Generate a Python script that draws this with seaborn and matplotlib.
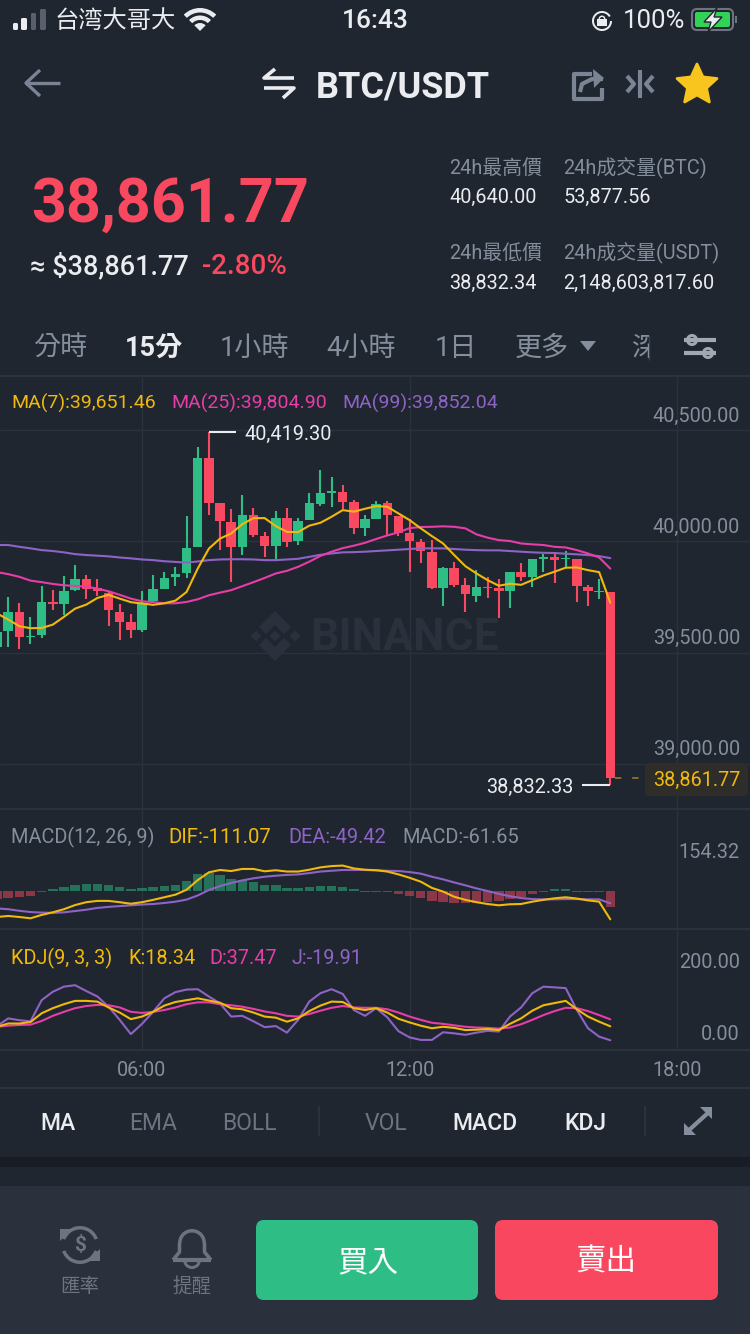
import numpy as np
import pandas as pd
import matplotlib
matplotlib.use('Agg')
import matplotlib.pyplot as plt
from matplotlib.patches import FancyBboxPatch, Rectangle, Polygon, Wedge, Circle
from matplotlib.transforms import Bbox
import seaborn as sns

# 15 min candles, index 0 is the 06:00 candle
first_idx = -13
opens = [39453, 39523, 39611, 39496, 39505, 39654, 39648, 39708, 39760, 39718, 39697, 39611, 39563, 39531,
         39660, 39715, 39766, 39783, 39901, 40303, 40098, 40015, 39901, 40047, 39952, 39906, 40033, 39930,
         40023, 40095, 40145, 40151, 40103, 39986, 40029, 40098, 40043, 39966, 39926, 39881, 39716, 39806,
         39732, 39684, 39723, 39716, 39702, 39791, 39765, 39849, 39855, 39846, 39846, 39723, 39699, 39701]
closes = [39521, 39611, 39498, 39502, 39655, 39646, 39705, 39760, 39715, 39703, 39618, 39563, 39531, 39645,
          39714, 39763, 39781, 39898, 40303, 40099, 40018, 39900, 40047, 39954, 39906, 40033, 39925, 40020,
          40098, 40143, 40151, 40103, 39986, 40027, 40095, 40045, 39966, 39927, 39882, 39716, 39806, 39732,
          39690, 39723, 39717, 39702, 39791, 39765, 39849, 39849, 39843, 39852, 39726, 39702, 39705, 38861.77]
highs = [39535, 39678, 39651, 39588, 39728, 39708, 39772, 39823, 39774, 39760, 39700, 39648, 39603, 39705,
         39778, 39790, 39813, 40042, 40350, 40419.30, 40098, 40071, 40137, 40078, 39970, 40065, 40078, 40033,
         40146, 40248, 40215, 40183, 40113, 40048, 40110, 40107, 40043, 40026, 39936, 39933, 39813, 39833,
         39761, 39798, 39768, 39756, 39791, 39828, 39849, 39869, 39881, 39882, 39849, 39729, 39759, 39701]
lows = [39438, 39453, 39445, 39468, 39495, 39621, 39595, 39705, 39670, 39681, 39549, 39486, 39495, 39522,
        39655, 39714, 39726, 39763, 39901, 40044, 39888, 39743, 39868, 39945, 39858, 39850, 39903, 39910,
        40023, 40086, 40080, 40071, 39960, 39951, 40026, 39954, 39951, 39788, 39828, 39713, 39639, 39723,
        39612, 39653, 39675, 39581, 39626, 39747, 39720, 39788, 39738, 39810, 39653, 39636, 39668, 38832.33]

ma7 = [39603, 39576, 39546, 39537, 39538, 39553, 39588, 39625, 39643, 39673, 39687, 39670, 39654, 39648,
       39642, 39649, 39661, 39700, 39805, 39895, 39940, 39963, 40005, 40032, 40032, 39996, 39970, 39969,
       39998, 40011, 40038, 40068, 40061, 40074, 40086, 40083, 40053, 40023, 39986, 39951, 39918, 39866,
       39816, 39783, 39753, 39728, 39737, 39732, 39753, 39774, 39791, 39809, 39810, 39798, 39789, 39651.46]
ma25 = [39789, 39780, 39768, 39751, 39744, 39736, 39730, 39727, 39724, 39715, 39703, 39687, 39670, 39658,
        39654, 39649, 39649, 39655, 39667, 39685, 39697, 39708, 39726, 39744, 39763, 39783, 39795, 39813,
        39836, 39862, 39881, 39897, 39908, 39921, 39938, 39954, 39968, 39987, 39992, 39993, 39995, 39993,
        39986, 39959, 39944, 39933, 39929, 39918, 39914, 39911, 39903, 39900, 39888, 39873, 39855, 39804.90]
ma99 = [39911, 39911, 39903, 39896, 39888, 39884, 39878, 39870, 39866, 39863, 39860, 39855, 39851, 39846,
        39843, 39838, 39835, 39832, 39837, 39843, 39846, 39847, 39847, 39846, 39843, 39843, 39846, 39849,
        39858, 39867, 39873, 39878, 39879, 39881, 39884, 39887, 39890, 39893, 39896, 39896, 39896, 39893,
        39890, 39888, 39887, 39887, 39884, 39881, 39878, 39876, 39875, 39872, 39869, 39866, 39861, 39852.04]

dif = [-102, -98, -102, -107, -94, -84, -72, -56, -45, -40, -40, -45, -51, -45,
       -36, -26, -16, 3, 40, 70, 79, 75, 83, 83, 74, 78, 73, 73,
       80, 89, 94, 96, 85, 80, 78, 73, 62, 49, 34, 10, -4, -24,
       -36, -45, -52, -57, -53, -52, -43, -36, -30, -26, -31, -38, -43, -111.07]
dea = [-69, -72, -78, -83, -85, -86, -84, -79, -74, -67, -63, -60, -57, -54,
       -52, -48, -43, -35, -19, 2, 17, 29, 39, 47, 53, 57, 60, 62,
       67, 73, 76, 79, 79, 79, 78, 76, 75, 71, 65, 53, 43, 31,
       20, 8, -2, -13, -22, -29, -33, -34, -34, -33, -33, -34, -34, -49.42]
macd_hist = [-33, -27, -24, -23, -6, 6, 12, 21, 24, 24, 21, 12, 4, 8,
             15, 19, 23, 36, 65, 67, 59, 44, 41, 32, 21, 21, 9, 8,
             15, 17, 17, 12, 4, -5, -5, -5, -13, -23, -30, -40, -45, -49,
             -49, -49, -46, -41, -33, -26, -14, -5, 4, 4, -5, -5, -5, -61.65]

kdj_k = [17, 26, 26, 30, 54, 68, 79, 88, 88, 86, 70, 56, 38, 45,
         58, 75, 85, 90, 95, 89, 83, 68, 65, 56, 45, 42, 31, 40,
         60, 75, 86, 85, 68, 63, 68, 56, 39, 29, 20, 13, 17, 14,
         8, 9, 11, 8, 25, 40, 61, 76, 82, 88, 65, 45, 31, 18.34]
kdj_d = [17, 20, 22, 23, 33, 47, 58, 68, 74, 77, 76, 70, 58, 55,
         58, 63, 70, 79, 84, 84, 79, 76, 72, 66, 59, 54, 47, 45,
         52, 61, 69, 74, 70, 69, 69, 65, 56, 45, 36, 28, 25, 21,
         17, 15, 14, 12, 15, 24, 36, 49, 60, 69, 68, 60, 49, 37.47]
kdj_j = [19, 40, 35, 32, 90, 113, 127, 131, 115, 100, 72, 36, -3, 25,
         58, 95, 112, 119, 120, 100, 81, 45, 47, 32, 16, 19, 1, 36,
         86, 109, 120, 107, 63, 47, 68, 43, 5, -12, -19, -19, 2, -1,
         -5, 1, 6, 4, 45, 70, 109, 127, 125, 123, 63, 13, -10, -19.91]

price_ticks = [40500, 40000, 39500, 39000]
time_ticks = [0, 24, 48]
time_labels = ['06:00', '12:00', '18:00']
last_price = 38861.77

BG = '#1F2630'
GREEN = '#2EBD85'
RED = '#F84960'
YELLOW = '#F0B90B'
PINK = '#E83DA8'
PURPLE = '#8E63C5'
GREY = '#848E9C'
DIM = '#6B7480'
WHITE = '#EAECEF'
GRID = '#2B323D'
MARK = '#2A313C'

sns.set_theme(style='dark')
plt.rcParams['font.family'] = ['Roboto', 'Noto Sans CJK TC', 'DejaVu Sans']

W, H = 750, 1334
fig = plt.figure(figsize=(W / 100, H / 100), dpi=100, facecolor=BG)


def px_axes(top, bottom):
    ax = fig.add_axes([0, 1 - bottom / H, 1, (bottom - top) / H])
    ax.set_facecolor('none')
    for s in ax.spines.values():
        s.set_visible(False)
    return ax


def screen_layer(z):
    layer = fig.add_axes([0, 0, 1, 1], zorder=z)
    layer.set_xlim(0, W)
    layer.set_ylim(H, 0)
    layer.axis('off')
    return layer


# screen coordinates layers for the app chrome: shapes below the charts, text above
ui = screen_layer(0)
top = screen_layer(10)


def label(x, y, s, color=GREY, size=14.3, ha='left', weight='normal', **kw):
    return top.text(x, y + 1.5, s, color=color, fontsize=size, ha=ha, va='center', fontweight=weight, **kw)


def seg(xs, ys, color=DIM, lw=2.0, **kw):
    ui.plot(xs, ys, color=color, lw=lw, solid_capstyle='butt', **kw)


def axis_label(ax, value, s, color=GREY):
    ax.annotate(s, xy=(740 / W, value), xycoords=ax.get_yaxis_transform(), xytext=(0, -2),
                textcoords='offset pixels', color=color, fontsize=14.3, ha='right', va='center')


# status bar
for x0, x1, t0, c in [(13, 18, 23, WHITE), (21, 27, 18, WHITE), (31, 36, 13, '#59606B'), (40, 46, 9, '#59606B')]:
    ui.add_patch(FancyBboxPatch((x0, t0), x1 - x0, 30 - t0, boxstyle='round,pad=0,rounding_size=1.5', fc=c, ec='none'))
label(55, 20, '台湾大哥大', WHITE, 17.5)
for r, wd in [(23, 4.5), (15.5, 4.5), (8, 8)]:
    ui.add_patch(Wedge((200, 31), r, 225, 315, width=wd, fc=WHITE, ec='none'))
label(375, 20, '16:43', WHITE, 19, ha='center', weight='medium')
ui.add_patch(Wedge((602, 21), 10, 0, 330, width=2, fc=WHITE, ec='none'))
ui.add_patch(Rectangle((597, 19), 10, 7, fc=WHITE, ec='none'))
ui.add_patch(Wedge((602, 19), 3.5, 180, 360, width=1.5, fc=WHITE, ec='none'))
label(623, 20, '100%', WHITE, 18.5)
ui.add_patch(FancyBboxPatch((692, 9), 41, 21, boxstyle='round,pad=0,rounding_size=5', fc='none', ec='#6D7480', lw=1.5))
ui.add_patch(FancyBboxPatch((695, 12), 35, 15, boxstyle='round,pad=0,rounding_size=2', fc='#32D158', ec='none'))
ui.add_patch(Rectangle((735, 16), 2, 7, fc='#6D7480', ec='none'))
ui.add_patch(Polygon([(717, 8), (704, 22), (711, 22), (708, 32), (722, 17), (714, 17)], fc=WHITE, ec=BG, lw=1))

# nav bar
seg([25, 60], [83, 83], '#7A8494', 2.4)
seg([40, 26, 40], [70, 83, 96], '#7A8494', 2.4)
seg([294, 264, 275], [78, 78, 69], WHITE, 2.6)
seg([264, 294, 283], [88, 88, 98], WHITE, 2.6)
label(316, 86, 'BTC/USDT', WHITE, 26, weight='bold')
seg([592, 573.5, 573.5, 602, 602], [74, 74, 99, 99, 88], '#7A8494', 3)
seg([580, 582, 592, 603], [92, 84, 79, 79], '#7A8494', 3)
ui.add_patch(Polygon([(593, 69), (604, 78), (594, 88)], fc='#7A8494', ec='none'))
seg([640, 640], [70, 98], '#7A8494', 3)
seg([627, 634, 627], [76, 84, 92], '#7A8494', 3)
seg([653, 646, 653], [76, 84, 92], '#7A8494', 3)
star_ang = np.deg2rad(np.arange(10) * 36 - 90)
star_r = np.where(np.arange(10) % 2 == 0, 21, 10)
ui.add_patch(Polygon(np.c_[697 + star_r * np.cos(star_ang), 85 + star_r * np.sin(star_ang)],
                     fc='#F7C51E', ec='#F7C51E', lw=2, joinstyle='round'))

# header
label(31, 203, '38,861.77', RED, 44, weight='bold')
label(30, 265, '≈ $38,861.77', WHITE, 19.5, weight='medium')
label(202, 265, '-2.80%', RED, 20, weight='medium')
label(449, 167, '24h最高價', GREY)
label(563, 167, '24h成交量(BTC)', GREY)
label(449, 196, '40,640.00', WHITE)
label(563, 196, '53,877.56', WHITE)
label(449, 252, '24h最低價', GREY)
label(563, 252, '24h成交量(USDT)', GREY)
label(449, 282, '38,832.34', WHITE)
label(563, 282, '2,148,603,817.60', WHITE)

# period tabs
for x, s, c, w in [(33, '分時', GREY, 'normal'), (125, '15分', WHITE, 'bold'), (220, '1小時', GREY, 'normal'),
                   (326, '4小時', GREY, 'normal'), (435, '1日', GREY, 'normal'), (515, '更多', GREY, 'normal')]:
    label(x, 347, s, c, 19.5, weight=w)
ui.add_patch(Polygon([(580, 341), (596, 341), (588, 351)], fc=GREY, ec='none'))
t = label(631, 347, '深', GREY, 19.5)
t.set_clip_box(Bbox([[620, H - 366], [649, H - 330]]))
t.set_clip_on(True)
seg([649, 649], [335, 360], '#3A414C', 1)
seg([684, 716], [340, 340], '#A0A8B4', 3)
seg([684, 716], [353, 353], '#A0A8B4', 3)
ui.add_patch(Circle((692, 340), 4.5, fc=BG, ec='#A0A8B4', lw=2.2))
ui.add_patch(Circle((708, 353), 4.5, fc=BG, ec='#A0A8B4', lw=2.2))
seg([0, W], [376, 376], GRID, 1.5)

# watermark
for cx, cy, r in [(275, 636, 5.5), (256, 636, 5.5), (295, 636, 5.5)]:
    ui.add_patch(Polygon([(cx - r, cy), (cx, cy - r), (cx + r, cy), (cx, cy + r)], fc=MARK, ec='none'))
ui.add_patch(Polygon([(275, 611), (291, 627), (284, 634), (275, 625), (266, 634), (259, 627)], fc=MARK, ec='none'))
ui.add_patch(Polygon([(275, 661), (291, 645), (284, 638), (275, 647), (266, 638), (259, 645)], fc=MARK, ec='none'))
ui.text(310, 638, 'BINANCE', color=MARK, fontsize=32, fontweight='bold', va='center')

# price panel
candles = pd.DataFrame({'idx': first_idx + np.arange(len(opens)), 'open': opens, 'close': closes,
                        'high': highs, 'low': lows, 'ma7': ma7, 'ma25': ma25, 'ma99': ma99,
                        'dif': dif, 'dea': dea, 'hist': macd_hist, 'k': kdj_k, 'd': kdj_d, 'j': kdj_j})
candles['color'] = np.where(candles['close'] >= candles['open'], GREEN, RED)
candles['side'] = np.where(candles['hist'] >= 0, 'up', 'down')

x_lim = (-142 / 11.15, (W - 142) / 11.15)
ax = px_axes(376, 809)
ax.set_xlim(*x_lim)
ax.set_ylim(38724, 40671)
ax.vlines(candles['idx'], candles['low'], candles['high'], color=candles['color'], lw=1.5, zorder=2)
ax.bar(candles['idx'], (candles['close'] - candles['open']).abs().clip(lower=7),
       bottom=candles[['open', 'close']].min(axis=1), width=0.85, color=candles['color'], lw=0, zorder=2)
for col, c in [('ma99', PURPLE), ('ma25', PINK), ('ma7', YELLOW)]:
    sns.lineplot(data=candles, x='idx', y=col, color=c, lw=1.5, ax=ax, errorbar=None, zorder=3)

# high and low markers
hi = candles.loc[candles['high'].idxmax()]
lo = candles.loc[candles['low'].idxmin()]
ax.hlines(hi['high'], hi['idx'], hi['idx'] + 2.45, color=WHITE, lw=1.5, zorder=4)
ax.annotate(f"{hi['high']:,.2f}", xy=(hi['idx'] + 3.2, hi['high']), xytext=(0, -2), textcoords='offset pixels',
            color=WHITE, fontsize=14.3, va='center')
ax.hlines(lo['low'], lo['idx'] - 2.5, lo['idx'], color=WHITE, lw=1.5, zorder=4)
ax.annotate(f"{lo['low']:,.2f}", xy=(lo['idx'] - 3.3, lo['low']), xytext=(0, -2), textcoords='offset pixels',
            color=WHITE, fontsize=14.3, va='center', ha='right')
ax.hlines(last_price, 42.4, 44.9, color='#8F7420', lw=1.3, ls=(0, (3.5, 6)), zorder=2)

for p in price_ticks:
    axis_label(ax, p, f'{p:,.2f}')
top.add_patch(FancyBboxPatch((645, 763), 103, 33, boxstyle='round,pad=0,rounding_size=4', fc='#2E2D29', ec='none'))
label(740, 779, f'{last_price:,.2f}', YELLOW, ha='right')
ax.set_yticks([40428, 39927, 39426, 38925])
ax.set_xticks(time_ticks)
ax.tick_params(length=0, labelleft=False, labelbottom=False)
ax.grid(True, color=GRID, lw=1)
ax.set_axisbelow(True)
ax.set_xlabel('')
ax.set_ylabel('')
label(11, 402, 'MA(7):39,651.46', YELLOW, 14)
label(171, 402, 'MA(25):39,804.90', PINK, 14)
label(342, 402, 'MA(99):39,852.04', PURPLE, 14)

# MACD panel
ax2 = px_axes(809, 929)
sns.barplot(data=candles, x='idx', y='hist', hue='side', palette={'up': GREEN, 'down': RED}, native_scale=True,
            dodge=False, width=0.85, saturation=1, alpha=0.5, linewidth=0, legend=False, ax=ax2, zorder=2)
sns.lineplot(data=candles, x='idx', y='dea', color=PURPLE, lw=1.5, ax=ax2, errorbar=None, zorder=3)
sns.lineplot(data=candles, x='idx', y='dif', color=YELLOW, lw=1.5, ax=ax2, errorbar=None, zorder=3)
ax2.set_xlim(*x_lim)
ax2.set_ylim(-148.2, 313.8)
ax2.set_xticks(time_ticks)
ax2.set_yticks([])
ax2.tick_params(length=0, labelbottom=False)
ax2.grid(True, axis='x', color=GRID, lw=1)
ax2.set_axisbelow(True)
ax2.set_xlabel('')
ax2.set_ylabel('')
axis_label(ax2, 154.32, '154.32')
label(11, 836, 'MACD(12, 26, 9)', GREY)
label(168, 836, 'DIF:-111.07', YELLOW, 14.7)
label(288, 836, 'DEA:-49.42', PURPLE, 14.4)
label(402, 836, 'MACD:-61.65', GREY, 14.4)

# KDJ panel
ax3 = px_axes(929, 1050)
for col, c in [('j', PURPLE), ('d', PINK), ('k', YELLOW)]:
    sns.lineplot(data=candles, x='idx', y=col, color=c, lw=1.5, ax=ax3, errorbar=None, zorder=3)
ax3.set_xlim(*x_lim)
ax3.set_ylim(-46.6, 285)
ax3.set_xticks(time_ticks)
ax3.set_xticklabels(time_labels)
ax3.set_yticks([])
ax3.tick_params(axis='x', length=0, pad=8, labelsize=14.3, labelcolor=GREY)
ax3.grid(True, axis='x', color=GRID, lw=1)
ax3.set_axisbelow(True)
ax3.set_xlabel('')
ax3.set_ylabel('')
axis_label(ax3, 200, '200.00')
axis_label(ax3, 0, '0.00')
label(11, 957, 'KDJ(9, 3, 3)', YELLOW)
label(128, 957, 'K:18.34', YELLOW)
label(209, 957, 'D:37.47', PINK)
label(292, 957, 'J:-19.91', PURPLE)

for y in [809, 929, 1050, 1088]:
    seg([0, W], [y, y], GRID, 1.5)

# indicator tabs
for x, s, c, w in [(58, 'MA', WHITE, 'medium'), (153, 'EMA', DIM, 'normal'), (249, 'BOLL', DIM, 'normal'),
                   (386, 'VOL', DIM, 'normal'), (485, 'MACD', WHITE, 'medium'), (585, 'KDJ', WHITE, 'medium')]:
    label(x, 1122, s, c, 16.5, ha='center', weight=w)
seg([319, 319], [1106, 1136], GRID, 1.5)
seg([645, 645], [1106, 1136], GRID, 1.5)
seg([688, 709], [1131, 1112], '#848E9C', 3)
ui.add_patch(Polygon([(712, 1107), (712, 1119), (700, 1107)], fc='#848E9C', ec='none'))
ui.add_patch(Polygon([(684, 1135), (684, 1123), (696, 1135)], fc='#848E9C', ec='none'))

# footer
ui.add_patch(Rectangle((0, 1157), W, 10, fc='#181D25', ec='none'))
ui.add_patch(Rectangle((0, 1186), W, H - 1186, fc='#2A303C', ec='none'))
ui.add_patch(Wedge((80, 1245), 19, 200, 340, width=3.5, fc=DIM, ec='none'))
ui.add_patch(Wedge((80, 1245), 19, 20, 160, width=3.5, fc=DIM, ec='none'))
ui.add_patch(Polygon([(60, 1229), (72, 1229), (60, 1241)], fc=DIM, ec='none'))
ui.add_patch(Polygon([(100, 1261), (88, 1261), (100, 1249)], fc=DIM, ec='none'))
label(80, 1244, '$', DIM, 15, ha='center', weight='bold')
label(80, 1285, '匯率', DIM, 14, ha='center')
ui.add_patch(Wedge((192, 1243), 14, 180, 360, width=3.5, fc=DIM, ec='none'))
seg([179.5, 179.5, 173], [1243, 1252, 1260], DIM, 2.6)
seg([204.5, 204.5, 211], [1243, 1252, 1260], DIM, 2.6)
seg([173, 211], [1260, 1260], DIM, 3)
ui.add_patch(Wedge((192, 1260), 9, 0, 180, width=3, fc=DIM, ec='none'))
label(192, 1285, '提醒', DIM, 14, ha='center')
ui.add_patch(FancyBboxPatch((256, 1220), 222, 80, boxstyle='round,pad=0,rounding_size=8', fc=GREEN, ec='none'))
ui.add_patch(FancyBboxPatch((495, 1220), 223, 80, boxstyle='round,pad=0,rounding_size=8', fc='#F8475F', ec='none'))
label(368, 1261, '買入', 'white', 22, ha='center', weight='medium')
label(606, 1261, '賣出', 'white', 22, ha='center', weight='medium')

fig.savefig('out.png', dpi=100, facecolor=BG)
